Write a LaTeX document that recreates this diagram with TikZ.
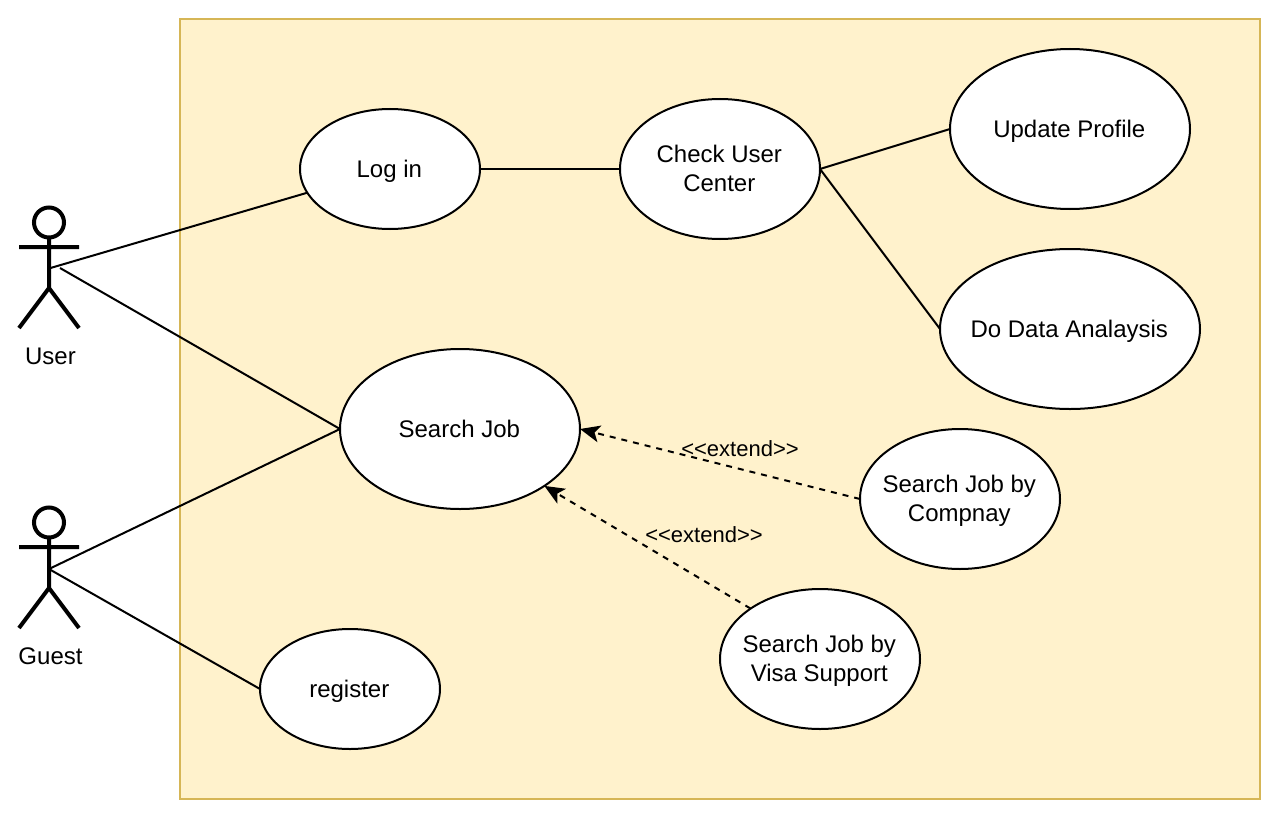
\documentclass[tikz,border=0pt]{standalone}
\usepackage{fontspec}
\setmainfont{Liberation Sans}
\usetikzlibrary{shapes.geometric,arrows.meta}
\definecolor{boxfill}{HTML}{FFF2CC}
\definecolor{boxline}{HTML}{D6B656}
\newcommand{\tline}[1]{\raisebox{0pt}[17pt][0pt]{#1\kern1.4pt}}
\newcommand{\tlast}[1]{\raisebox{0pt}[17pt][2pt]{#1\kern1.4pt}}
\tikzset{
  x=1pt,y=-1pt,
  usecase/.style={draw=black,fill=white,ellipse,line width=2pt,inner xsep=-30pt,inner ysep=0pt,outer sep=0pt,align=center,font=\fontsize{24}{29}\selectfont},
  link/.style={draw=black,line width=2pt},
  extendlink/.style={draw=black,line width=2pt,dash pattern=on 6pt off 6pt,-{Stealth[length=20pt,width=17pt,inset=5pt]}},
  stick/.style={draw=black,line width=4pt},
  actorlabel/.style={font=\fontsize{24}{29}\selectfont,inner sep=0pt},
  extlabel/.style={font=\fontsize{22}{26}\selectfont,inner sep=0pt}
}
\begin{document}
\begin{tikzpicture}
\useasboundingbox (0,0) rectangle (1276,824);
\fill[white] (0,0) rectangle (1276,824);
\draw[draw=boxline,fill=boxfill,line width=2pt] (180,19) rectangle (1260,799);
% use cases
\node[usecase,minimum width=180pt,minimum height=120pt] (login) at (390,169) {\tline{Log in}};
\node[usecase,minimum width=200pt,minimum height=140pt] (check) at (720,169) {\tline{Check User}\\\tlast{Center}};
\node[usecase,minimum width=240pt,minimum height=160pt] (update) at (1070,129) {\tline{Update Profile}};
\node[usecase,minimum width=260pt,minimum height=160pt] (data) at (1070,329) {\tline{Do Data Analaysis}};
\node[usecase,minimum width=240pt,minimum height=160pt] (search) at (460,429) {\tline{Search Job}};
\node[usecase,minimum width=200pt,minimum height=140pt] (company) at (960,499) {\tline{Search Job by}\\\tlast{Compnay}};
\node[usecase,minimum width=200pt,minimum height=140pt] (visa) at (820,659) {\tline{Search Job by}\\\tlast{Visa Support}};
\node[usecase,minimum width=180pt,minimum height=120pt] (register) at (350,689) {\tline{register}};
% actors
\draw[stick] (49,222.5) circle (15);
\draw[stick] (49,237.5) -- (49,288) (19,247) -- (79,247) (19,328) -- (49,288) -- (79,328);
\node[actorlabel] (user) at (50.5,356) {User};
\draw[stick] (49,522.5) circle (15);
\draw[stick] (49,537.5) -- (49,588) (19,547) -- (79,547) (19,628) -- (49,588) -- (79,628);
\node[actorlabel] (guest) at (50.5,656) {Guest};
\coordinate (userA) at (50.5,268);
\coordinate (userB) at (60,268);
\coordinate (guestA) at (49,569);
% connectors
\draw[link] (userA) -- (login.196.5);
\draw[link] (userB) -- (search.west);
\draw[link] (guestA) -- (search.west);
\draw[link] (guestA) -- (register.west);
\draw[link] (login.east) -- (check.west);
\draw[link] (check.east) -- (update.west);
\draw[link] (check.east) -- (data.west);
\draw[extendlink] (company.west) -- (search.east);
\draw[extendlink] (visa.144.7) -- (search.-34);
\node[extlabel] (ext1) at (740,449) {<{}<extend>{}>};
\node[extlabel] (ext2) at (704,535) {<{}<extend>{}>};
\end{tikzpicture}
\end{document}
